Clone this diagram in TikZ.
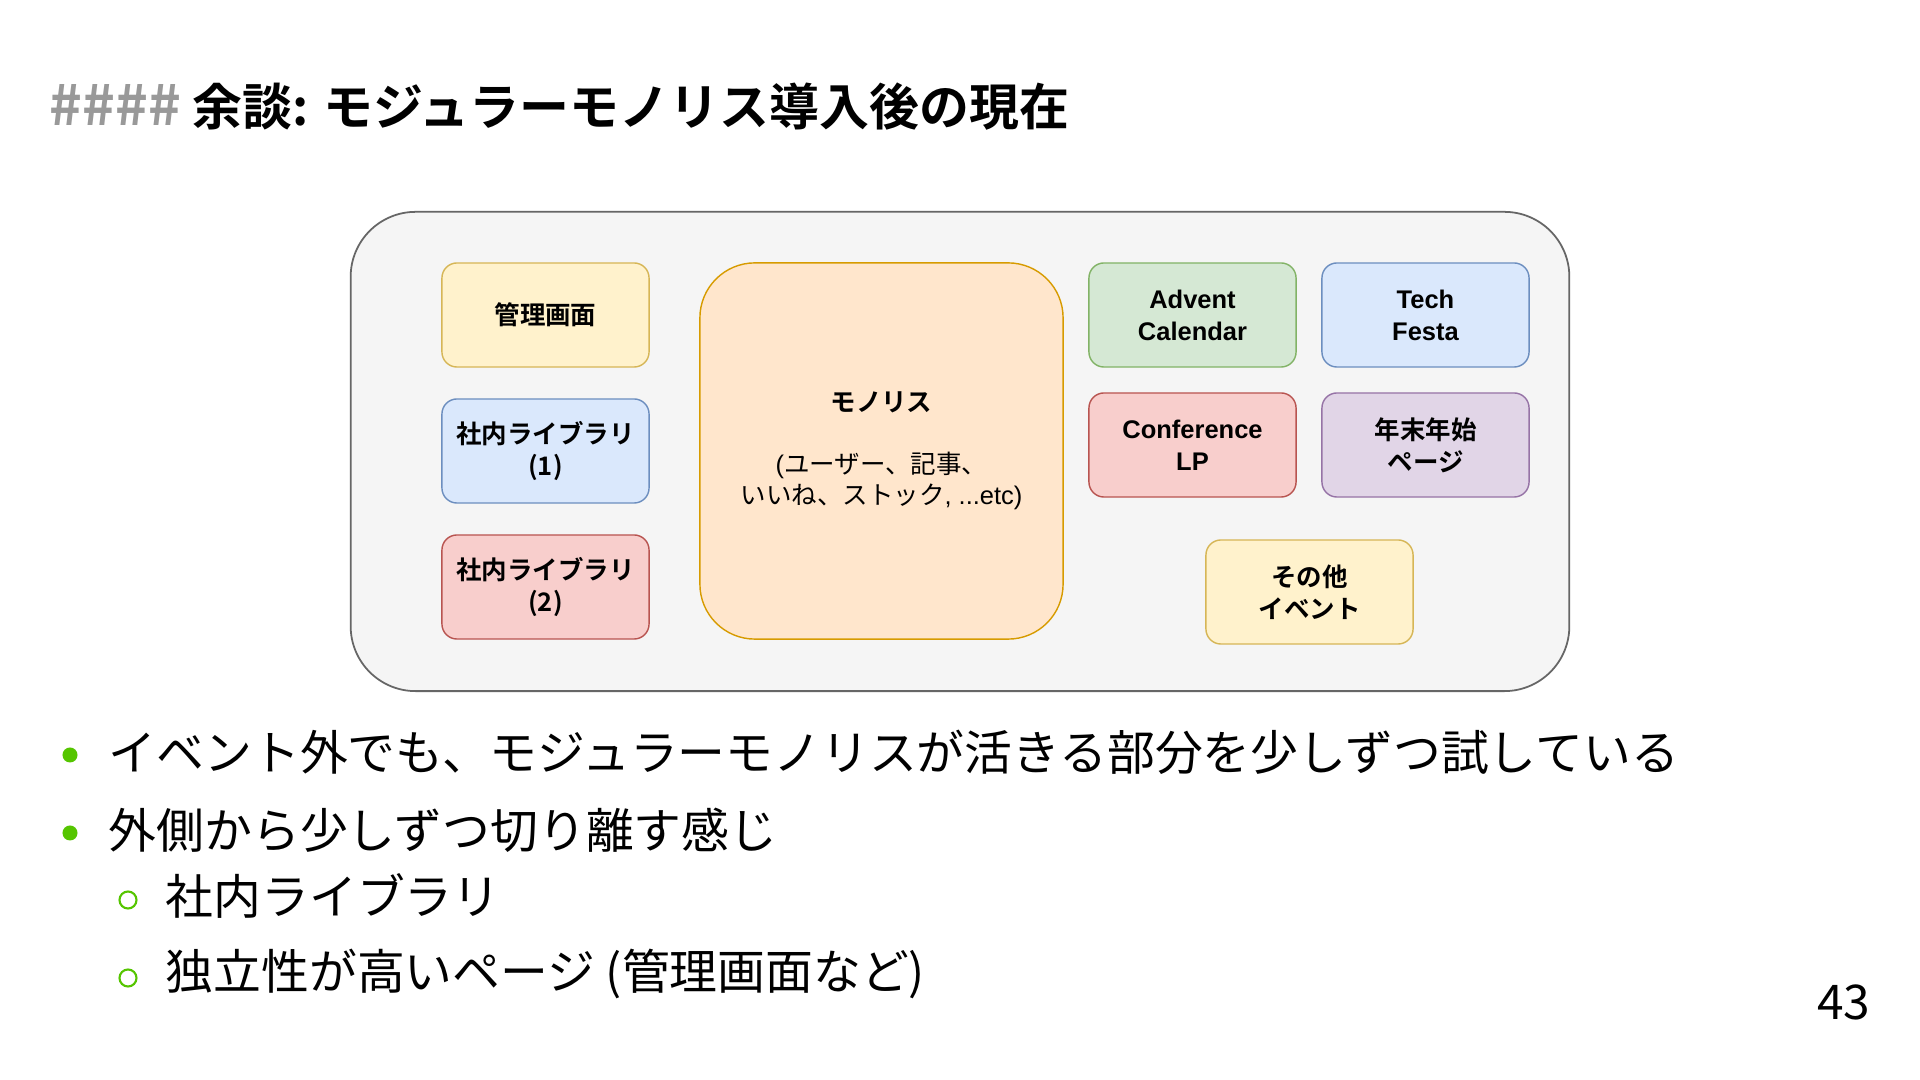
\documentclass[tikz,border=0pt]{standalone}
\usepackage{fontspec}
\setmainfont{Noto Sans CJK JP}[BoldFont={Noto Sans CJK JP Bold}]
\newfontfamily\helv{Liberation Sans}
\usepackage{xcolor}
\usepackage{tikz}
\usetikzlibrary{positioning}

\definecolor{qgreen}{HTML}{55C500}
\definecolor{ylwfill}{HTML}{FFF2CC}
\definecolor{ylwline}{HTML}{D6B656}
\definecolor{blufill}{HTML}{DAE8FC}
\definecolor{bluline}{HTML}{6C8EBF}
\definecolor{redfill}{HTML}{F8CECC}
\definecolor{redline}{HTML}{B85450}
\definecolor{grnfill}{HTML}{D5E8D4}
\definecolor{grnline}{HTML}{82B366}
\definecolor{prpfill}{HTML}{E1D5E7}
\definecolor{prpline}{HTML}{9673A6}
\definecolor{orgfill}{HTML}{FFE6CC}
\definecolor{orgline}{HTML}{D79B00}
\definecolor{outfill}{HTML}{F5F5F5}
\definecolor{outline}{HTML}{666666}

\newcommand{\boxfont}{\fontsize{7.25pt}{9.1pt}\selectfont\bfseries}

\begin{document}
\begin{tikzpicture}[x=0.01cm, y=-0.01cm,
    box/.style={draw, rectangle, rounded corners=0.15cm, minimum width=2.07cm, minimum height=1.04cm, align=center, line width=0.4pt, font=\boxfont},
    item/.style={anchor=west, inner sep=0pt, font=\fontsize{13.6pt}{16pt}\selectfont},
    dot/.style={circle, fill=qgreen, inner sep=0pt, minimum size=0.15cm},
    ring/.style={circle, draw=qgreen, line width=0.6pt, inner sep=0pt, minimum size=0.17cm}]
        \useasboundingbox[fill=white] (0,0) rectangle (1920,1080);

        % Titulo
        \node[anchor=west, inner sep=0pt, font=\fontsize{14.2pt}{17pt}\selectfont\bfseries] (title) at (49,107) {\textcolor{black!40}{\fontsize{15.8pt}{17pt}\selectfont\#\#\#\#} 余談: モジュラーモノリス導入後の現在};

        % Moldura
        \node[draw=outline, fill=outfill, line width=0.5pt, rounded corners=0.65cm, minimum width=12.18cm, minimum height=4.79cm] (outer) at (960,451.5) {};

        % Coluna esquerda
        \node[box, fill=ylwfill, draw=ylwline] (kanri) at (545.5,315) {管理画面};
        \node[box, fill=blufill, draw=bluline] (lib1) at (545.5,451) {社内ライブラリ\\(1)};
        \node[box, fill=redfill, draw=redline] (lib2) at (545.5,587) {社内ライブラリ\\(2)};

        % Monolito
        \node[draw=orgline, fill=orgfill, line width=0.4pt, rounded corners=0.55cm, minimum width=3.63cm, minimum height=3.76cm, align=center, font=\fontsize{7.25pt}{8.8pt}\selectfont] (mono) at (881.5,451) {\textbf{モノリス}\\[8.8pt]{\helv (}ユーザー、記事、\\いいね、ストック{\helv , ...etc)}};

        % Eventos
        \node[box, fill=grnfill, draw=grnline, font=\boxfont\helv] (advent) at (1192.5,315) {Advent\\Calendar};
        \node[box, fill=blufill, draw=bluline, font=\boxfont\helv] (tech) at (1425.5,315) {Tech\\Festa};
        \node[box, fill=redfill, draw=redline, font=\boxfont\helv] (conf) at (1192.5,445) {Conference\\LP};
        \node[box, fill=prpfill, draw=prpline] (nenmatsu) at (1425.5,445) {年末年始\\ページ};
        \node[box, fill=ylwfill, draw=ylwline] (other) at (1309.5,592) {その他\\イベント};

        % Lista
        \node[dot] (d1) at (70,755) {};
        \node[item] (b1) at (108,752) {イベント外でも、モジュラーモノリスが活きる部分を少しずつ試している};
        \node[dot] (d2) at (70,833) {};
        \node[item] (b2) at (108,830) {外側から少しずつ切り離す感じ};
        \node[ring] (r1) at (128,900) {};
        \node[item] (s1) at (165,896) {社内ライブラリ};
        \node[ring] (r2) at (128,978) {};
        \node[item] (s2) at (165,974) {独立性が高いページ (管理画面など)};

        \node[anchor=east, inner sep=0pt, font=\fontsize{13.6pt}{16pt}\selectfont] (page) at (1871,1002) {43};
    \end{tikzpicture}
\end{document}
